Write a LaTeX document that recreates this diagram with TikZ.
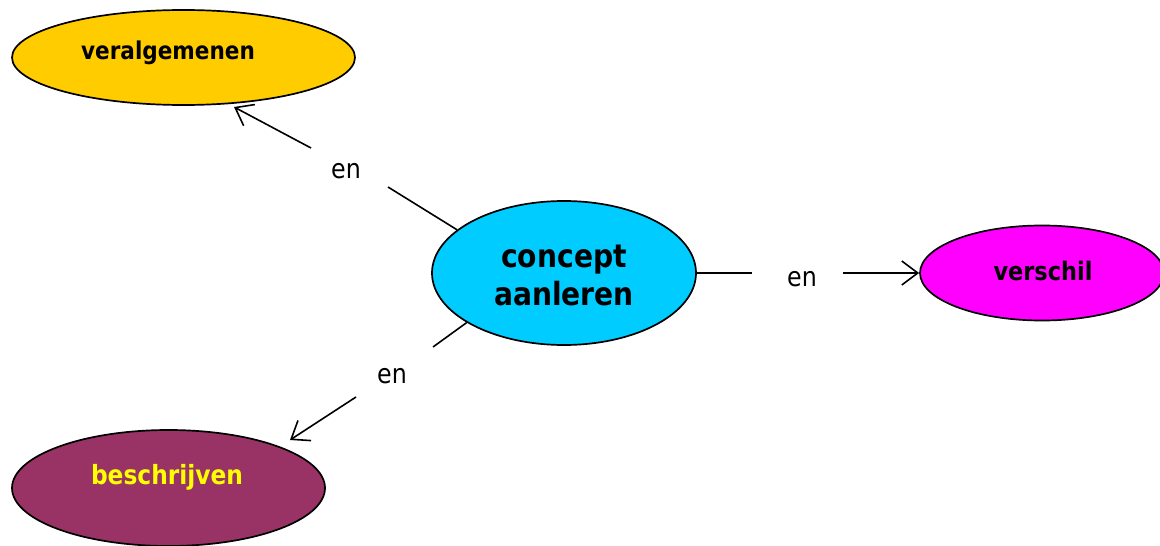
\documentclass[tikz,border=0pt]{standalone}
\usepackage{fontspec}
\setmainfont{DejaVu Sans}[FakeStretch=0.88]
\usetikzlibrary{shapes.geometric,arrows.meta}
\definecolor{cgold}{HTML}{FFCC00}
\definecolor{ccyan}{HTML}{00CCFF}
\definecolor{cmag}{HTML}{FF00FF}
\definecolor{cplum}{HTML}{993366}
\definecolor{cyel}{HTML}{FFFF00}
\tikzset{
  cnode/.style={ellipse, draw=black, line width=1.7pt, inner sep=0pt},
  ctext/.style={font=\bfseries\fontsize{25}{30}\selectfont, inner sep=0pt},
  bigtext/.style={font=\bfseries\fontsize{32}{38}\selectfont, align=center, inner sep=0pt},
  lbl/.style={font=\fontsize{27}{30}\selectfont, inner sep=0pt},
  link/.style={line width=1.6pt},
  arr/.style={link, -{Straight Barb[length=16pt,width=24pt,line width=1.6pt]}}
}
\begin{document}
\begin{tikzpicture}[x=1pt,y=-1pt]
\useasboundingbox (0,0) rectangle (1160,546);
\clip (0,0) rectangle (1160,546);
% concept nodes
\node[cnode, fill=cgold, minimum width=343pt, minimum height=95pt] (v) at (183.5,57.5) {};
\node[ctext, font=\bfseries\fontsize{24.5}{30}\selectfont] (vt) at (168,53) {veralgemenen};
\node[cnode, fill=ccyan, minimum width=264pt, minimum height=144pt] (c) at (564,273) {};
\node[bigtext] (ct) at (564,275) {concept\\aanleren};
\node[cnode, fill=cmag, minimum width=244pt, minimum height=95pt] (s) at (1042,273) {};
\node[ctext, font=\bfseries\fontsize{25.5}{30}\selectfont] (st) at (1043,271) {verschil};
\node[cnode, fill=cplum, minimum width=313pt, minimum height=116pt] (b) at (168.5,488) {};
\node[ctext, font=\bfseries\fontsize{26.5}{30}\selectfont, text=cyel] (bt) at (167,477) {beschrijven};
% linking phrases
\node[lbl] (l1) at (346,171) {en};
\node[lbl] (l2) at (802,279) {en};
\node[lbl] (l3) at (392,376) {en};
% connector gap ends and tips
\coordinate (g1a) at (388,187);
\coordinate (g1b) at (311,148);
\coordinate (t1) at (234,107);
\coordinate (g2a) at (752,273);
\coordinate (g2b) at (843,273);
\coordinate (g3a) at (433,347);
\coordinate (g3b) at (356,397);
\coordinate (t3) at (290,440);
% connectors
\draw[link] (c.158) -- (g1a);
\draw[arr] (g1b) -- (t1);
\draw[link] (c.east) -- (g2a);
\draw[arr] (g2b) -- (s.west);
\draw[link] (c.207) -- (g3a);
\draw[arr] (g3b) -- (t3);
\end{tikzpicture}
\end{document}
